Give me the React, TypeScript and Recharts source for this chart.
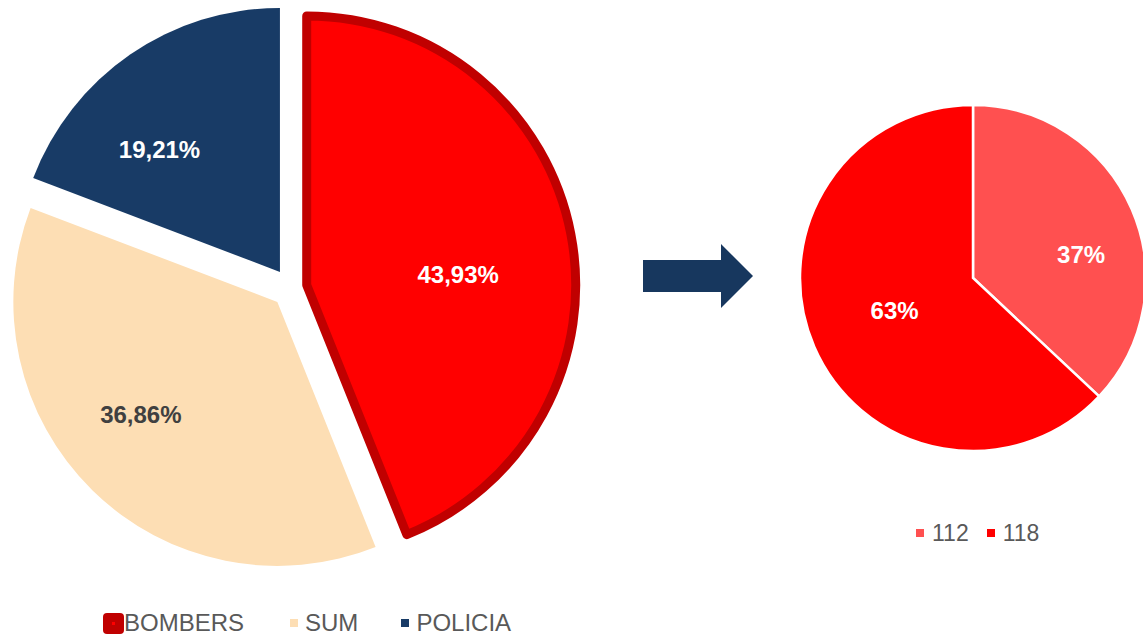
import { PieChart, Pie, Cell, Sector } from 'recharts';

// ── 데이터 ─────────────────────────────────────────────
const leftNames = ['BOMBERS', 'SUM', 'POLICIA'];
const leftValues = [43.93, 36.86, 19.21];
const rightNames = ['112', '118'];
const rightValues = [37, 63];

const leftColors = ['#FF0000', '#FDDEB4', '#183B66'];
const leftText = ['#FFFFFF', '#404040', '#FFFFFF'];
const rightColors = ['#FF5050', '#FF0000'];

const leftData = leftNames.map((name, i) => ({ name, value: leftValues[i] }));
const rightData = rightNames.map((name, i) => ({ name, value: rightValues[i] }));

const RAD = Math.PI / 180;
const FONT = '"Liberation Sans", Arial, sans-serif';

// explode distance / extra radius per slice (px)
const leftExplode = [16, 19.5, 19.5];
const leftGrow = [5, 0, 0];
// label placement: radius fraction + clockwise tweak (deg)
const leftSpots = [{ r: 0.575, a: 7 }, { r: 0.67, a: 6 }, { r: 0.65, a: -10 }];
const rightSpots = [{ r: 0.64, a: 11 }, { r: 0.49, a: 1 }];

function offset(mid: number, d: number) {
  return { x: d * Math.cos(-mid * RAD), y: d * Math.sin(-mid * RAD) };
}

function leftSlice(props: any) {
  const i = leftNames.indexOf(props.name ?? props.payload?.name);
  const o = offset(props.midAngle, leftExplode[i] ?? 0);
  return <Sector {...props} cx={props.cx + o.x} cy={props.cy + o.y} outerRadius={props.outerRadius + (leftGrow[i] ?? 0)} />;
}

function leftLabel(p: any) {
  const i = p.index;
  const o = offset(p.midAngle, leftExplode[i] ?? 0);
  const s = leftSpots[i];
  const ang = p.midAngle - s.a;
  const x = p.cx + o.x + s.r * p.outerRadius * Math.cos(-ang * RAD);
  const y = p.cy + o.y + s.r * p.outerRadius * Math.sin(-ang * RAD);
  return (
    <text x={x} y={y} fill={leftText[i]} textAnchor="middle" dominantBaseline="central"
      fontSize={24} fontWeight="bold" fontFamily={FONT}>
      {p.value.toFixed(2).replace('.', ',')}%
    </text>
  );
}

function rightLabel(p: any) {
  const s = rightSpots[p.index];
  const ang = p.midAngle - s.a;
  const x = p.cx + s.r * p.outerRadius * Math.cos(-ang * RAD);
  const y = p.cy + s.r * p.outerRadius * Math.sin(-ang * RAD);
  return (
    <text x={x} y={y} fill="#FFFFFF" textAnchor="middle" dominantBaseline="central"
      fontSize={24} fontWeight="bold" fontFamily={FONT}>
      {p.value}%
    </text>
  );
}

export default function App() {
  return (
    <div style={{ position: 'fixed', left: 0, top: 0, width: 1143, height: 636, background: '#fff', overflow: 'hidden', fontFamily: FONT }}>
      <PieChart width={1143} height={636} margin={{ top: 0, right: 0, bottom: 0, left: 0 }}>
        <Pie data={leftData} dataKey="value" nameKey="name" cx={291} cy={288} outerRadius={264}
          startAngle={90} endAngle={-270} isAnimationActive={false} labelLine={false}
          label={leftLabel} shape={leftSlice}>
          {leftData.map((d, i) => (
            <Cell key={d.name} fill={leftColors[i]} stroke={i === 0 ? '#C00000' : 'none'} strokeWidth={i === 0 ? 9 : 0} strokeLinejoin="round" />
          ))}
        </Pie>
        <Pie data={rightData} dataKey="value" nameKey="name" cx={973} cy={278} outerRadius={173}
          startAngle={90} endAngle={-270} isAnimationActive={false} labelLine={false}
          label={rightLabel}>
          {rightData.map((d, i) => (
            <Cell key={d.name} fill={rightColors[i]} stroke="#FFFFFF" strokeWidth={2.5} />
          ))}
        </Pie>
      </PieChart>

      {/* 화살표 */}
      <svg width={1143} height={636} style={{ position: 'absolute', left: 0, top: 0, pointerEvents: 'none' }}>
        <polygon points="643,260 721,260 721,244 753,276 721,308 721,292 643,292" fill="#17375E" />
      </svg>

      {/* 왼쪽 범례 */}
      <div style={{ position: 'absolute', left: 103, top: 611, display: 'flex', alignItems: 'center', fontSize: 24, color: '#595959', lineHeight: '24px' }}>
        {leftNames.map((n, i) => (
          <span key={n} style={{ display: 'flex', alignItems: 'center', marginRight: i === 0 ? 46 : 43 }}>
            {i === 0 ? (
              <span style={{ width: 21, height: 21, borderRadius: 4, background: '#C00000', display: 'flex', alignItems: 'center', justifyContent: 'center' }}>
                <span style={{ width: 3, height: 3, background: '#FF0000' }} />
              </span>
            ) : (
              <span style={{ width: 8, height: 8, background: leftColors[i], marginRight: 7 }} />
            )}
            <span>{n}</span>
          </span>
        ))}
      </div>

      {/* 오른쪽 범례 */}
      <div style={{ position: 'absolute', left: 916, top: 521, display: 'flex', alignItems: 'center', fontSize: 23, color: '#595959', lineHeight: '24px' }}>
        {rightNames.map((n, i) => (
          <span key={n} style={{ display: 'flex', alignItems: 'center', marginRight: 18 }}>
            <span style={{ width: 8, height: 8, background: rightColors[i], marginRight: 8 }} />
            <span>{n}</span>
          </span>
        ))}
      </div>
    </div>
  );
}
